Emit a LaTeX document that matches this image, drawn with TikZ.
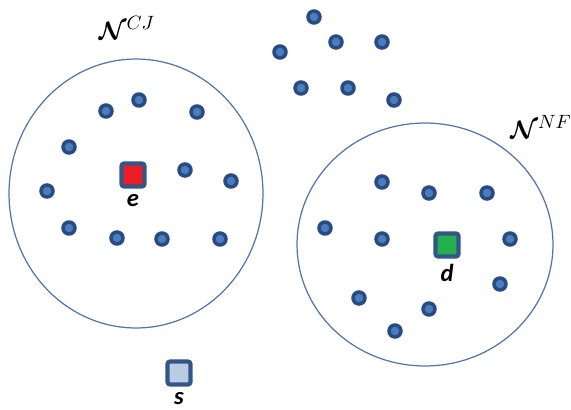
\documentclass[tikz,border=0pt]{standalone}
\usepackage{amsmath,amssymb}
\usepackage{fontspec}
\usepackage{xcolor}
\usepackage{tikz}
\usetikzlibrary{positioning,shapes.geometric}
\newfontfamily\lblfont{Carlito}
\definecolor{dotring}{RGB}{40,76,130}
\definecolor{dotfill}{RGB}{74,124,190}
\definecolor{sqedge}{RGB}{50,86,136}
\definecolor{sqred}{RGB}{235,30,38}
\definecolor{sqgreen}{RGB}{36,176,78}
\definecolor{sqlight}{RGB}{186,204,228}
\definecolor{rimblue}{RGB}{82,116,166}

\begin{document}
\begin{tikzpicture}[
  x=0.02cm, y=-0.02cm,
  dot/.style={circle, draw=dotring, fill=dotfill, line width=2pt,
              minimum size=0.24cm, inner sep=0pt},
  sq/.style={draw=sqedge, line width=2.4pt, rounded corners=1.5pt,
             minimum size=0.46cm, inner sep=0pt},
  rim/.style={ellipse, draw=rimblue, line width=0.7pt, inner sep=0pt},
  lbl/.style={font=\lblfont\bfseries\itshape\fontsize{14}{16}\selectfont,
              inner sep=0pt},
  setname/.style={font=\fontsize{15}{17}\selectfont},
  node distance=3pt]
\useasboundingbox (0,0) rectangle (571,409);
% the two neighbourhoods
\node[rim, minimum width=5.08cm, minimum height=5.38cm] (cj) at (136,193.5) {};
\node[rim, minimum width=5.12cm, minimum height=4.86cm] (nf) at (425,244.5) {};
\node[setname] (cjname) at (127,28) {$\boldsymbol{\mathcal{N}}^{CJ}$};
\node[setname] (nfname) at (541,127) {$\boldsymbol{\mathcal{N}}^{NF}$};
% nodes outside both sets
\foreach \p [count=\i] in {(314,17),(280,52),(336,42),(382,42),(301,88),(348,88),(394,100)}
  \node[dot] (o\i) at \p {};
% nodes of N^CJ
\foreach \p [count=\i] in {(106,111),(139,100),(197,112),(69,147),(185,170),(231,181),
                           (47,191),(69,228),(117,238),(162,239),(220,239)}
  \node[dot] (c\i) at \p {};
% nodes of N^NF
\foreach \p [count=\i] in {(382,182),(429,193),(487,193),(325,228),(382,239),(510,239),
                           (359,298),(429,309),(500,284),(395,331)}
  \node[dot] (f\i) at \p {};
% special nodes
\node[sq, fill=sqred]   (e) at (133,175) {};
\node[sq, fill=sqgreen] (d) at (447,245) {};
\node[sq, fill=sqlight] (s) at (179,373) {};
\node[lbl, below=of e] (elbl) {e};
\node[lbl, below=of d] (dlbl) {d};
\node[lbl, below=of s] (slbl) {s};
\end{tikzpicture}
\end{document}
